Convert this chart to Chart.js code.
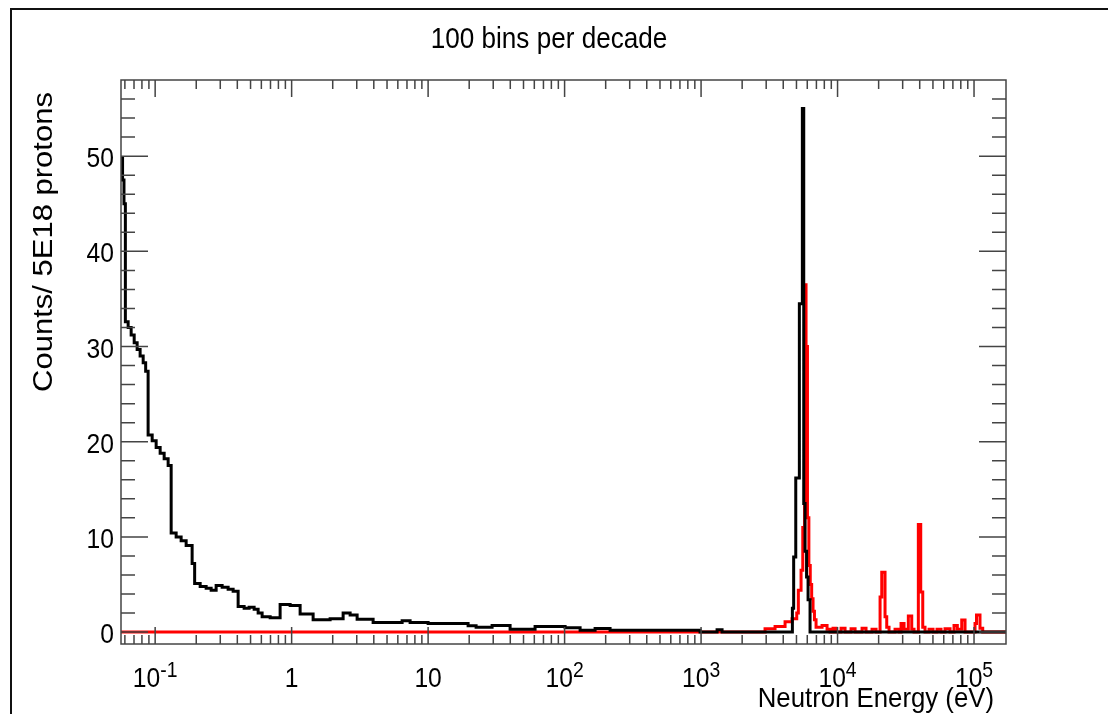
<!DOCTYPE html>
<html>
<head>
<meta charset="utf-8">
<script src="https://cdn.jsdelivr.net/npm/chart.js@4.4.0/dist/chart.umd.min.js"></script>
<style>
  html, body { margin: 0; padding: 0; background: #fff; }
</style>
</head>
<body>
<canvas id="spec" width="1108" height="714"></canvas>
<script>
/* neutron energy spectrum, 100 bins per decade (ROOT style histogram) */

// step starts (eV) and contents
const blackE = [0.0562, 0.0577, 0.0591, 0.0605, 0.0634, 0.0667, 0.0702, 0.0738, 0.0776, 0.0817,
    0.0852, 0.0888, 0.0951, 0.1017, 0.1088, 0.1164, 0.1245, 0.1310, 0.1425, 0.1550,
    0.1687, 0.1866, 0.1947, 0.2137, 0.2364, 0.2572, 0.2798, 0.3096, 0.3425, 0.3727,
    0.4055, 0.4487, 0.4882, 0.5312, 0.5682, 0.6078, 0.6961, 0.8234, 0.9750, 1.154,
    1.437, 1.914, 2.384, 2.683, 3.019, 3.954, 6.45, 7.38, 10.0, 19.63,
    22.47, 29.43, 39.87, 60.78, 100.9, 129.9, 167.3, 215.4, 983, 1310,
    1425, 4667, 4769, 4941, 5250, 5523, 5653, 5780, 5929, 6081, 6288];
const blackN = [49.8, 47.5, 45.0, 32.6, 32.0, 31.2, 30.4, 29.7, 29.0, 28.3,
    27.4, 20.7, 20.1, 19.4, 18.8, 18.2, 17.5, 10.4, 10.0, 9.6,
    9.1, 7.2, 5.1, 4.8, 4.6, 4.4, 4.9, 4.7, 4.5, 4.3,
    2.7, 2.5, 2.6, 2.4, 2.0, 1.6, 1.5, 2.9, 2.8, 1.9,
    1.3, 1.4, 2.0, 1.8, 1.35, 1.0, 1.2, 1.0, 0.9, 0.67,
    0.5, 0.7, 0.3, 0.6, 0.45, 0.2, 0.38, 0.2, 0, 0.25,
    0, 2.5, 7.9, 16.2, 34.5, 55, 13.5, 8.5, 5.8, 3.4, 0];

const redE = [0.0562, 2943, 3484, 4125, 4642, 5024, 5161, 5403, 5561, 5733,
    5877, 6019, 6164, 6310, 6462, 6614, 6772, 6959, 7699, 8378,
    8812, 9268, 9750, 10610, 11350, 12560, 13440, 15120, 16170, 17890,
    19150, 20490, 21080, 22280, 22930, 23840, 26380, 28220, 29190, 30700,
    33010, 34960, 36340, 39080, 40690, 42100, 43750, 46810, 50070, 53570,
    57310, 61310, 66710, 71370, 75450, 81270, 85930, 101700, 104300, 110600, 115800];
const redN = [0, 0.35, 0.6, 1.1, 1.4, 2.0, 4.4, 6.5, 11, 36.5,
    30, 12, 7, 5, 3.5, 2.2, 1.3, 0.5, 0.7, 0.3,
    0, 0.4, 0, 0.4, 0, 0.35, 0, 0.4, 0, 0.3,
    0, 3.7, 6.3, 1.6, 0.5, 0, 0.3, 0, 0.9, 0.3,
    1.7, 0.3, 0, 11.3, 4.2, 0.5, 0, 0.3, 0, 0.3,
    0, 0.35, 0, 0.7, 0.3, 1.26, 0, 0.9, 1.8, 0.4, 0];

const eMin = 0.0562, eMax = 171500;
const yMin = -1.25, yMax = 58;

const xMajor = [0.1, 1, 10, 100, 1e3, 1e4, 1e5];
const xLabels = [['10', '-1'], ['1', ''], ['10', ''], ['10', '2'], ['10', '3'], ['10', '4'], ['10', '5']];
const yMajor = [0, 10, 20, 30, 40, 50];

const titleText = '100 bins per decade';
const xTitle = 'Neutron Energy (eV)';
const yTitle = 'Counts/ 5E18 protons';

const FONT = '"Liberation Sans", Arial, Helvetica, sans-serif';
const AXIS = '#444';

function steps(edges, counts) {
    const pts = edges.map((e, i) => ({x: e, y: counts[i]}));
    pts.push({x: eMax, y: counts[counts.length - 1]});
    return pts;
}

// text squeezed a little horizontally, like the ROOT canvas
function txt(ctx, s, x, y, size, sx, align) {
    ctx.save();
    ctx.font = size + 'px ' + FONT;
    ctx.textAlign = align;
    ctx.textBaseline = 'alphabetic';
    ctx.fillStyle = '#000';
    ctx.translate(x, y);
    ctx.scale(sx, 1);
    ctx.fillText(s, 0, 0);
    ctx.restore();
}

function textW(ctx, s, size, sx) {
    ctx.save();
    ctx.font = size + 'px ' + FONT;
    const w = ctx.measureText(s).width * sx;
    ctx.restore();
    return w;
}

const rootFrame = {
    id: 'rootFrame',
    beforeDraw(chart) {
        const ctx = chart.ctx;
        ctx.save();
        ctx.fillStyle = '#fff';
        ctx.fillRect(0, 0, chart.width, chart.height);
        ctx.restore();
    },
    afterDatasetsDraw(chart) {
        const ctx = chart.ctx;
        const a = chart.chartArea;
        const xs = chart.scales.x, ys = chart.scales.y;
        ctx.save();
        ctx.strokeStyle = AXIS;
        ctx.lineWidth = 1.5;
        ctx.strokeRect(a.left, a.top, a.right - a.left, a.bottom - a.top);

        // x ticks, inside, bottom and top
        const tick = (px, len) => {
            ctx.beginPath();
            ctx.moveTo(px, a.bottom); ctx.lineTo(px, a.bottom - len);
            ctx.moveTo(px, a.top); ctx.lineTo(px, a.top + len);
            ctx.stroke();
        };
        for (let k = -2; k <= 5; k++) {
            for (let m = 2; m <= 9; m++) {
                const v = m * Math.pow(10, k);
                if (v > eMin && v < eMax) tick(xs.getPixelForValue(v), 9);
            }
        }
        xMajor.forEach(v => tick(xs.getPixelForValue(v), 17));

        // y ticks, inside, left and right
        for (let v = 0; v <= 56; v += 2) {
            const py = ys.getPixelForValue(v);
            const len = v % 10 === 0 ? 27 : 14;
            ctx.beginPath();
            ctx.moveTo(a.left, py); ctx.lineTo(a.left + len, py);
            ctx.moveTo(a.right, py); ctx.lineTo(a.right - len, py);
            ctx.stroke();
        }
        ctx.restore();

        // labels
        yMajor.forEach(v => txt(ctx, String(v), 114, ys.getPixelForValue(v) + 11, 28, 0.88, 'right'));
        xMajor.forEach((v, i) => {
            const [b, e] = xLabels[i];
            const wb = textW(ctx, b, 28, 0.88), we = e ? textW(ctx, e, 22, 0.88) : 0;
            const x0 = xs.getPixelForValue(v) - (wb + we) / 2;
            txt(ctx, b, x0, 687, 28, 0.88, 'left');
            if (e) txt(ctx, e, x0 + wb, 677, 22, 0.88, 'left');
        });
    },
    afterDraw(chart) {
        const ctx = chart.ctx;
        // pad border
        ctx.save();
        ctx.strokeStyle = '#111';
        ctx.lineWidth = 2;
        ctx.beginPath();
        ctx.moveTo(11, chart.height); ctx.lineTo(11, 9); ctx.lineTo(chart.width, 9);
        ctx.stroke();
        ctx.restore();

        txt(ctx, titleText, 549, 48, 30, 0.87, 'center');
        txt(ctx, xTitle, 994, 707, 28, 0.92, 'right');

        ctx.save();
        ctx.font = '31px ' + FONT;
        ctx.fillStyle = '#000';
        ctx.textAlign = 'center';
        ctx.textBaseline = 'alphabetic';
        ctx.translate(51.5, 242);
        ctx.scale(0.87, 1);
        ctx.rotate(-Math.PI / 2);
        ctx.fillText(yTitle, 0, 0);
        ctx.restore();
    }
};

new Chart(document.getElementById('spec'), {
    type: 'line',
    data: {
        datasets: [{
            label: 'all',
            data: steps(blackE, blackN),
            borderColor: '#000',
            borderWidth: 3,
            stepped: 'before',
            pointRadius: 0,
            fill: false,
            borderJoinStyle: 'miter',
            borderCapStyle: 'butt',
        }, {
            label: 'selected',
            data: steps(redE, redN),
            borderColor: '#ff0000',
            borderWidth: 3,
            stepped: 'before',
            pointRadius: 0,
            fill: false,
            borderJoinStyle: 'miter',
            borderCapStyle: 'butt',
        }]
    },
    options: {
        responsive: false,
        devicePixelRatio: 1,
        animation: false,
        layout: { padding: { left: 121, top: 80, right: 102, bottom: 70 } },
        scales: {
            x: { type: 'logarithmic', min: eMin, max: eMax, display: false },
            y: { type: 'linear', min: yMin, max: yMax, display: false }
        },
        plugins: { legend: { display: false }, tooltip: { enabled: false } }
    },
    plugins: [rootFrame]
});
</script>
</body>
</html>
